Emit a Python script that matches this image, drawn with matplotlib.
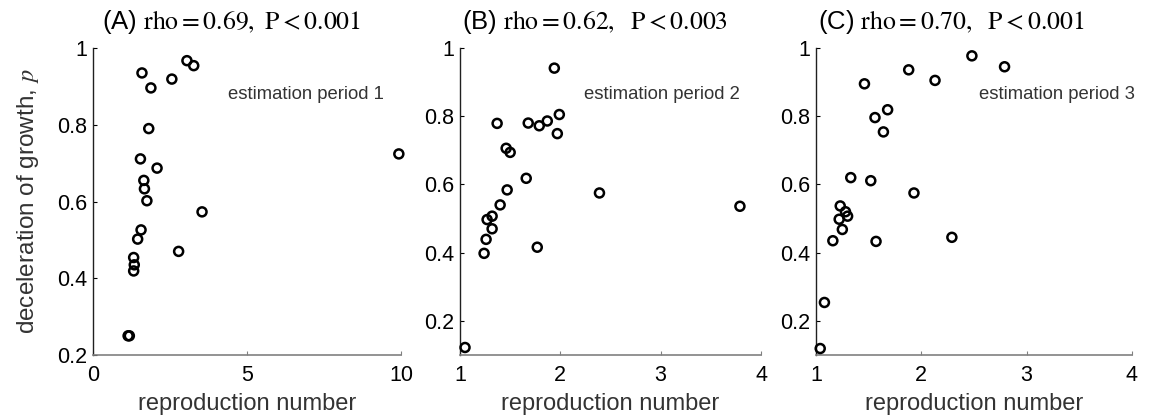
import matplotlib
matplotlib.use("Agg")
import matplotlib.pyplot as plt

plt.rcParams['font.family'] = ['Liberation Sans', 'DejaVu Sans']
plt.rcParams['mathtext.fontset'] = 'stix'

# period 1
r_a = [1.59, 3.05, 3.27, 2.56, 1.88, 1.81, 1.54, 2.08, 1.65, 1.67, 1.75, 3.54,
       1.56, 1.45, 2.78, 1.32, 1.34, 1.32, 1.14, 1.18, 9.93]
p_a = [0.935, 0.967, 0.954, 0.919, 0.896, 0.790, 0.711, 0.687, 0.655, 0.633, 0.602, 0.573,
       0.526, 0.502, 0.470, 0.454, 0.435, 0.419, 0.250, 0.250, 0.724]

# period 2
r_b = [1.94, 1.99, 1.37, 1.68, 1.79, 1.87, 1.97, 1.46, 1.50, 1.66, 1.47, 2.39,
       1.40, 1.32, 1.27, 1.32, 1.26, 1.24, 1.77, 3.79, 1.05]
p_b = [0.941, 0.805, 0.779, 0.780, 0.772, 0.786, 0.749, 0.706, 0.694, 0.618, 0.584, 0.575,
       0.540, 0.507, 0.497, 0.470, 0.439, 0.398, 0.416, 0.536, 0.122]

# period 3
r_c = [2.48, 2.79, 1.88, 2.13, 1.46, 1.68, 1.56, 1.64, 1.33, 1.52, 1.93, 2.29,
       1.57, 1.23, 1.28, 1.30, 1.22, 1.25, 1.16, 1.08, 1.04]
p_c = [0.977, 0.945, 0.936, 0.905, 0.895, 0.819, 0.796, 0.754, 0.620, 0.611, 0.575, 0.445,
       0.433, 0.537, 0.520, 0.507, 0.498, 0.468, 0.435, 0.254, 0.119]

titles = [r'(A) $\mathrm{rho} = 0.69,\ \mathrm{P} < 0.001$',
          r'(B) $\mathrm{rho} = 0.62,\ \ \mathrm{P} < 0.003$',
          r'(C) $\mathrm{rho} = 0.70,\ \ \mathrm{P} < 0.001$']
notes = ['estimation period 1', 'estimation period 2', 'estimation period 3']

W, H = 1151, 418
fig = plt.figure(figsize=(W / 100, H / 100), dpi=100)

boxes = [(93, 401), (460, 761), (816, 1132)]
xlims = [(0, 10), (1, 4), (1, 4)]
xticks = [[0, 5, 10], [1, 2, 3, 4], [1, 2, 3, 4]]
ylims = [(0.2, 1), (0.1, 1), (0.1, 1)]
yticks = [0.2, 0.4, 0.6, 0.8, 1]
note_x = [0.438, 0.412, 0.516]
title_x = [0.03, 0.005, 0.005]
data = [(r_a, p_a), (r_b, p_b), (r_c, p_c)]

for i in range(3):
    x0, x1 = boxes[i]
    ax = fig.add_axes([x0 / W, (H - 355) / H, (x1 - x0) / W, 307 / H])
    r, p = data[i]
    ax.scatter(r, p, s=42, facecolors='none', edgecolors='black', linewidths=1.8,
               clip_on=False, zorder=3)
    ax.set_xlim(*xlims[i])
    ax.set_ylim(*ylims[i])
    ax.set_xticks(xticks[i])
    ax.set_yticks(yticks)
    ax.set_yticklabels(['0.2', '0.4', '0.6', '0.8', '1'])
    ax.spines['top'].set_visible(False)
    ax.spines['right'].set_visible(False)
    ax.spines['bottom'].set_color('#808080')
    ax.spines['left'].set_color('#202020')
    ax.spines['bottom'].set_linewidth(1.2)
    ax.spines['left'].set_linewidth(1.0)
    ax.tick_params(direction='in', length=3, labelsize=15.5, colors='black')
    ax.tick_params(axis='x', color='#808080', pad=7)
    ax.tick_params(axis='y', pad=4)
    ax.set_xlabel('reproduction number', fontsize=17, color='#333333', labelpad=5)
    ax.set_title(titles[i], fontsize=18.5, loc='left', x=title_x[i], pad=14)
    ax.text(note_x[i], 0.85, notes[i], transform=ax.transAxes, ha='left', va='center',
            fontsize=13.3, color='#333333')
    if i == 0:
        ax.set_ylabel('deceleration of growth, $p$', fontsize=17.5, color='#333333', labelpad=12)

fig.savefig('out.png', dpi=100)
